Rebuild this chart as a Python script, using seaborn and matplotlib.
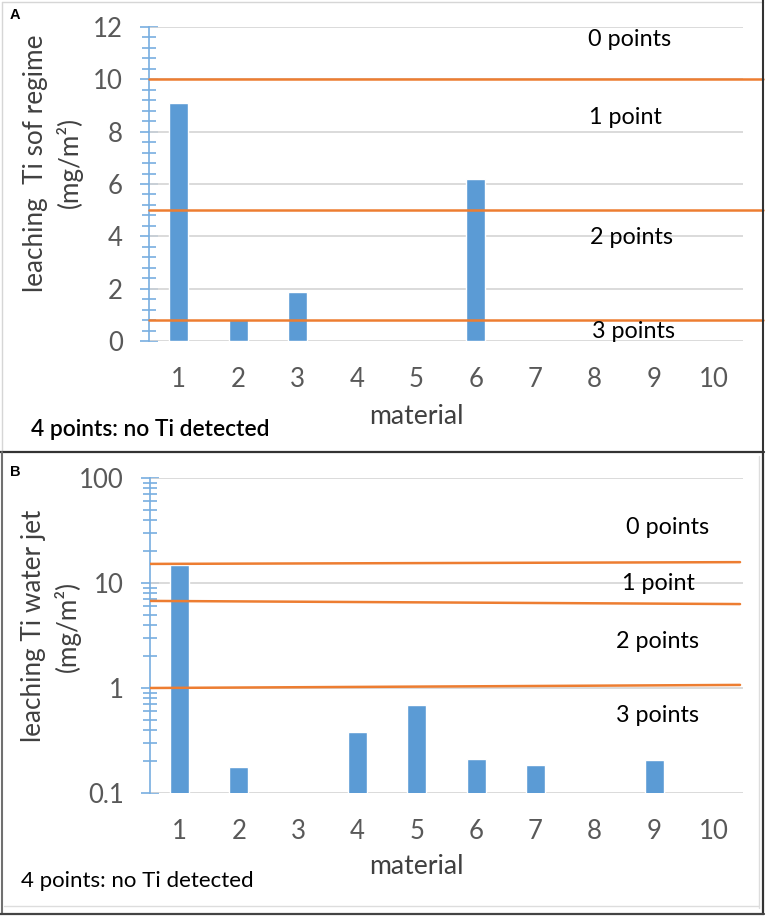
import numpy as np
import pandas as pd
import matplotlib
matplotlib.use("Agg")
import matplotlib.pyplot as plt
from matplotlib.ticker import MultipleLocator, FixedLocator, LogLocator, NullFormatter, FixedFormatter
from matplotlib.lines import Line2D
import seaborn as sns

# ---------------- data ----------------
materials_all = [str(i) for i in range(1, 11)]

materials_A = ["1", "2", "3", "6"]
leach_sof = [9.1, 0.84, 1.88, 6.2]
thresholds_A = [10, 5, 0.8]
labels_A = ["0 points", "1 point", "2 points", "3 points"]

materials_B = ["1", "2", "4", "5", "6", "7", "9"]
leach_jet = [15.0, 0.177, 0.38, 0.69, 0.21, 0.185, 0.206]
thresholds_B_start = [15.2, 6.75, 1.0]
thresholds_B_end = [15.8, 6.3, 1.07]
labels_B = ["0 points", "1 point", "2 points", "3 points"]

yticks_A = [0, 2, 4, 6, 8, 10, 12]
yticks_B = [0.1, 1, 10, 100]
ytick_labels_B = ["0.1", "1", "10", "100"]

# ---------------- style ----------------
sns.set_theme(style="white")
plt.rcParams["font.family"] = ["Lato", "DejaVu Sans"]

BAR = "#5b9bd5"
ORANGE = "#ed7d31"
AXBLUE = "#78aee0"
GRID = "#d4d4d4"
TXT = "#404040"

W, H = 768, 917
fig = plt.figure(figsize=(W / 100, H / 100), dpi=100)


def fx(px):
    return px / W


def fy(py):
    return 1 - py / H


def style_axes(ax):
    for s in ["top", "right", "bottom"]:
        ax.spines[s].set_visible(False)
    ax.spines["left"].set_color(AXBLUE)
    ax.spines["left"].set_linewidth(1.2)
    ax.tick_params(axis="y", which="major", left=True, direction="inout", length=13.5,
                   width=1.2, color=AXBLUE, labelsize=18.5, labelcolor="#595959", pad=12)
    ax.tick_params(axis="y", which="minor", left=True, direction="inout", length=10,
                   width=1.2, color=AXBLUE)
    ax.tick_params(axis="x", bottom=False, length=0, labelsize=18.5,
                   labelcolor="#595959", pad=19)
    ax.set_xlabel("")
    ax.set_ylabel("")
    ax.set_facecolor("none")


def add_grid(ax, ticks):
    for t in ticks:
        ax.add_line(Line2D([0, 1], [t, t], transform=ax.get_yaxis_transform(),
                           color=GRID, lw=1.2, zorder=1))


# ---------------- panel A ----------------
axA = fig.add_axes([fx(149), fy(341), fx(743) - fx(149), fy(27) - fy(341)])
dfA = pd.DataFrame({"material": materials_A, "leach": leach_sof})
sns.barplot(data=dfA, x="material", y="leach", order=materials_all, color=BAR,
            width=0.32, saturation=1, ax=axA, zorder=3)
axA.set_xlim(-0.5, len(materials_all) - 0.5)
axA.set_ylim(0, 12)
axA.yaxis.set_major_locator(FixedLocator(yticks_A))
axA.yaxis.set_minor_locator(MultipleLocator(0.4))
style_axes(axA)
add_grid(axA, yticks_A)
for th in thresholds_A:
    axA.axhline(th, xmin=0, xmax=1.034, color=ORANGE, lw=1.8, clip_on=False, zorder=4)

# ---------------- panel B ----------------
axB = fig.add_axes([fx(150), fy(793), fx(743) - fx(150), fy(478) - fy(793)])
dfB = pd.DataFrame({"material": materials_B, "leach": leach_jet})
sns.barplot(data=dfB, x="material", y="leach", order=materials_all, color=BAR,
            width=0.32, saturation=1, ax=axB, zorder=3)
axB.set_yscale("log")
axB.set_xlim(-0.5, len(materials_all) - 0.5)
axB.set_ylim(0.1, 100)
axB.yaxis.set_major_locator(FixedLocator(yticks_B))
axB.yaxis.set_major_formatter(FixedFormatter(ytick_labels_B))
axB.yaxis.set_minor_locator(LogLocator(base=10, subs=np.arange(2, 10)))
axB.yaxis.set_minor_formatter(NullFormatter())
style_axes(axB)
add_grid(axB, yticks_B)
for s, e in zip(thresholds_B_start, thresholds_B_end):
    axB.plot([0, 0.995], [s, e], transform=axB.get_yaxis_transform(),
             color=ORANGE, lw=1.8, zorder=4)

# ---------------- texts ----------------
fig.text(fx(53), fy(163), "leaching  Ti sof regime\n(mg/m²)", rotation=90,
         ha="center", va="center", multialignment="center", fontsize=18.8, color=TXT,
         linespacing=1.35)
fig.text(fx(51), fy(626), "leaching Ti water jet\n(mg/m²)", rotation=90,
         ha="center", va="center", multialignment="center", fontsize=18.8, color=TXT,
         linespacing=1.35)

fig.text(fx(416), fy(417), "material", ha="center", va="center", fontsize=19.2, color=TXT)
fig.text(fx(416), fy(867), "material", ha="center", va="center", fontsize=19.2, color=TXT)

posA = [(630, 39), (625, 117), (631, 237), (634, 331)]
for lab, (x, y) in zip(labels_A, posA):
    fig.text(fx(x), fy(y), lab, ha="center", va="center", fontsize=16.8, color="black")
posB = [(668, 527), (658, 584), (658, 641), (658, 716)]
for lab, (x, y) in zip(labels_B, posB):
    fig.text(fx(x), fy(y), lab, ha="center", va="center", fontsize=16.8, color="black")

fig.text(fx(31), fy(429), "4 points: no Ti detected", ha="left", va="center",
         fontsize=16.4, color="black", fontweight="semibold")
fig.text(fx(21), fy(881), "4 points: no Ti detected", ha="left", va="center",
         fontsize=16.0, color="black")

fig.text(fx(10), fy(15), "A", ha="left", va="center", fontsize=10.5,
         fontweight="bold", family="Liberation Sans", color="black")
fig.text(fx(10), fy(472), "B", ha="left", va="center", fontsize=10.5,
         fontweight="bold", family="Liberation Sans", color="black")

# ---------------- panel frames ----------------
def fline(x0, y0, x1, y1, color, lw):
    fig.add_artist(Line2D([fx(x0), fx(x1)], [fy(y0), fy(y1)], color=color, lw=lw,
                          transform=fig.transFigure))

fline(2, 2, 763, 2, "#d6d6d6", 1.0)
fline(2, 2, 2, 452, "#d6d6d6", 1.0)
fline(763, 0, 763, 452, "#333333", 1.5)
fline(0, 452, 764, 452, "#333333", 1.6)
fline(1.5, 452, 1.5, 914, "#707070", 1.5)
fline(763, 452, 763, 914, "#333333", 1.6)
fline(0, 913.5, 764, 913.5, "#444444", 1.6)
fline(759, 456, 759, 908, "#dddddd", 1.0)
fline(4, 906, 759, 906, "#dddddd", 1.0)

fig.savefig("out.png", dpi=100)
